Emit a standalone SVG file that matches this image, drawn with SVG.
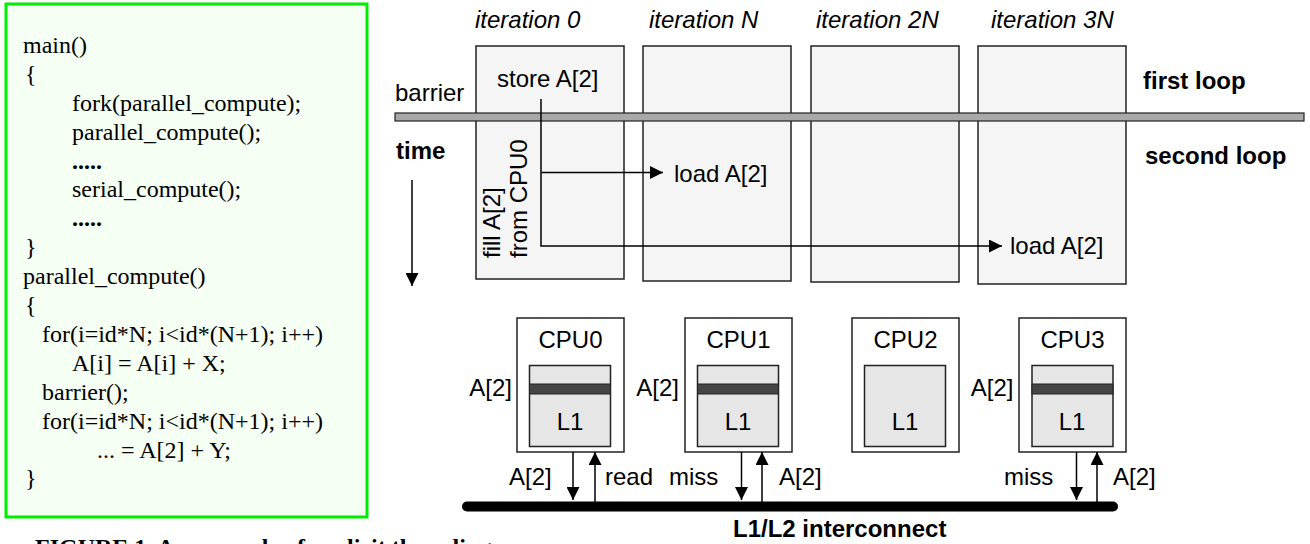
<svg xmlns="http://www.w3.org/2000/svg" width="1310" height="544" viewBox="0 0 1310 544">
<defs>
<style>
.code{font-family:"Liberation Serif","Times New Roman",serif;font-size:24px;fill:#000}
.b{font-weight:bold}
.s{font-family:"Liberation Sans",Arial,sans-serif;font-size:24px;fill:#000}
.it{font-style:italic}
.iter{fill:#f5f5f5;stroke:#222;stroke-width:1.5}
.cpu{fill:#fff;stroke:#222;stroke-width:1.5}
.l1{fill:#e6e6e6;stroke:#222;stroke-width:1.5}
.line{fill:#454545;stroke:#222;stroke-width:1}
.conn{fill:none;stroke:#000;stroke-width:1.5}
</style>
<marker id="ah" viewBox="0 0 13 13" markerUnits="userSpaceOnUse" markerWidth="13" markerHeight="13" refX="13" refY="6.5" orient="auto">
<path d="M0,0 L13,6.5 L0,13 z" fill="#000"/>
</marker>
</defs>

<g id="code">
<rect x="6" y="4" width="361" height="513" fill="#f6fff4" stroke="#00ee00" stroke-width="3"/>
<text class="code" x="23" y="53">main()</text>
<text class="code" x="25" y="82">{</text>
<text class="code" x="72" y="111">fork(parallel_compute);</text>
<text class="code" x="72" y="140">parallel_compute();</text>
<text class="code b" x="72" y="169">.....</text>
<text class="code" x="72" y="197">serial_compute();</text>
<text class="code b" x="72" y="226">.....</text>
<text class="code" x="25" y="255">}</text>
<text class="code" x="23" y="284">parallel_compute()</text>
<text class="code" x="25" y="313">{</text>
<text class="code" x="42" y="342">for(i=id*N; i&lt;id*(N+1); i++)</text>
<text class="code" x="72" y="371">A[i] = A[i] + X;</text>
<text class="code" x="42" y="400">barrier();</text>
<text class="code" x="42" y="429">for(i=id*N; i&lt;id*(N+1); i++)</text>
<text class="code" x="97" y="458">... = A[2] + Y;</text>
<text class="code" x="25" y="486">}</text>
</g>

<text class="code b" x="35" y="555">FIGURE 1. An example of explicit threading</text>

<g id="iter0">
<rect class="iter" x="476" y="46" width="148" height="233"/>
<text class="s it" x="475" y="28">iteration 0</text>
</g>
<g id="iterN">
<rect class="iter" x="643" y="46" width="148" height="235"/>
<text class="s it" x="649" y="28">iteration N</text>
</g>
<g id="iter2N">
<rect class="iter" x="811" y="46" width="148" height="236"/>
<text class="s it" x="816" y="28">iteration 2N</text>
</g>
<g id="iter3N">
<rect class="iter" x="978" y="46" width="148" height="238"/>
<text class="s it" x="991" y="28">iteration 3N</text>
</g>

<g id="barrier">
<rect x="395" y="113" width="909" height="8" fill="#a8a8a8" stroke="#222" stroke-width="1.2"/>
<text class="s" x="395" y="101">barrier</text>
</g>

<text class="s" x="497" y="87">store A[2]</text>
<text class="s b" x="396" y="159">time</text>
<text class="s b" x="1143" y="89">first loop</text>
<text class="s b" x="1145" y="164">second loop</text>
<text class="s" transform="translate(500,258) rotate(-90)">fill A[2]</text>
<text class="s" transform="translate(527,258) rotate(-90)">from CPU0</text>
<text class="s" x="674" y="182">load A[2]</text>
<text class="s" x="1010" y="254">load A[2]</text>

<g id="cpu0">
<rect class="cpu" x="517" y="318" width="107" height="134"/>
<rect class="l1" x="529.5" y="365.5" width="81" height="81"/>
<rect class="line" x="529.5" y="384" width="81" height="10"/>
<text class="s" x="570.5" y="348" text-anchor="middle">CPU0</text>
<text class="s" x="570" y="430" text-anchor="middle">L1</text>
<text class="s" x="512" y="396" text-anchor="end">A[2]</text>
</g>
<g id="cpu1">
<rect class="cpu" x="685" y="318" width="107" height="134"/>
<rect class="l1" x="697.5" y="365.5" width="81" height="81"/>
<rect class="line" x="697.5" y="384" width="81" height="10"/>
<text class="s" x="738.5" y="348" text-anchor="middle">CPU1</text>
<text class="s" x="738" y="430" text-anchor="middle">L1</text>
<text class="s" x="679" y="396" text-anchor="end">A[2]</text>
</g>
<g id="cpu2">
<rect class="cpu" x="852" y="318" width="107" height="134"/>
<rect class="l1" x="864.5" y="365.5" width="81" height="81"/>
<text class="s" x="905.5" y="348" text-anchor="middle">CPU2</text>
<text class="s" x="905" y="430" text-anchor="middle">L1</text>
</g>
<g id="cpu3">
<rect class="cpu" x="1019" y="318" width="107" height="134"/>
<rect class="l1" x="1032" y="365.5" width="81" height="81"/>
<rect class="line" x="1032" y="384" width="81" height="10"/>
<text class="s" x="1072.5" y="348" text-anchor="middle">CPU3</text>
<text class="s" x="1072" y="430" text-anchor="middle">L1</text>
<text class="s" x="1013.5" y="396" text-anchor="end">A[2]</text>
</g>

<g id="bus">
<line x1="467" y1="506.5" x2="1113" y2="506.5" stroke="#000" stroke-width="10" stroke-linecap="round"/>
<text class="s b" x="733" y="537">L1/L2 interconnect</text>
</g>

<g id="connectors">
<line class="conn" x1="412" y1="180" x2="412" y2="286" marker-end="url(#ah)"/>
<polyline class="conn" points="541,99 541,246 1002,246" marker-end="url(#ah)"/>
<line class="conn" x1="541" y1="172.5" x2="663" y2="172.5" marker-end="url(#ah)"/>
<line class="conn" x1="573" y1="452" x2="573" y2="500" marker-end="url(#ah)"/>
<line class="conn" x1="595" y1="502" x2="595" y2="452" marker-end="url(#ah)"/>
<line class="conn" x1="741.5" y1="452" x2="741.5" y2="500" marker-end="url(#ah)"/>
<line class="conn" x1="762" y1="502" x2="762" y2="452" marker-end="url(#ah)"/>
<line class="conn" x1="1076.5" y1="452" x2="1076.5" y2="500" marker-end="url(#ah)"/>
<line class="conn" x1="1097" y1="502" x2="1097" y2="452" marker-end="url(#ah)"/>
<text class="s" x="509" y="485">A[2]</text>
<text class="s" x="605" y="485">read</text>
<text class="s" x="669" y="485">miss</text>
<text class="s" x="779" y="485">A[2]</text>
<text class="s" x="1004" y="485">miss</text>
<text class="s" x="1113" y="485">A[2]</text>
</g>
</svg>
